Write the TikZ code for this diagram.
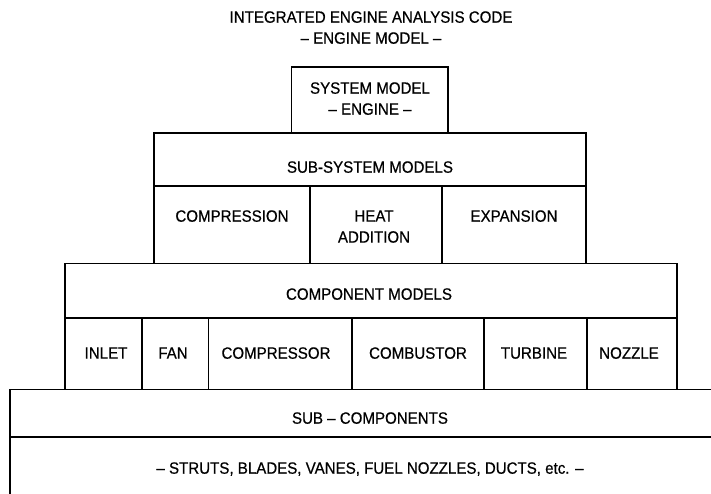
\documentclass[tikz,border=0pt]{standalone}
\usepackage{fontspec}
\setmainfont{Liberation Sans}[FakeStretch=0.92,FakeBold=0.5]
\begin{document}
\begin{tikzpicture}[x=1pt,y=-1pt,
  box/.style={line width=1.7pt,draw=black},
  lbl/.style={inner sep=0pt,align=center,text depth=0pt,font=\fontsize{16.4}{21}\selectfont}]
\useasboundingbox (0,0) rectangle (711,494);
\fill[white] (0,0) rectangle (711,494);
\begin{scope}
\clip (0,0) rectangle (711,494);
% system box
\draw[box] (291.5,67) rectangle (448,133);
% sub-system models
\draw[box] (154,133) rectangle (586,263.5);
\draw[box] (154,186) -- (586,186);
\draw[box] (310,186) -- (310,263.5);
\draw[box] (442,186) -- (442,263.5);
% component models
\draw[box] (65,263.5) rectangle (677,389.5);
\draw[box] (65,318) -- (677,318);
\foreach \xx in {142,208.5,352,484,587} \draw[box] (\xx,318) -- (\xx,389.5);
% sub-components
\draw[box] (720,389.5) -- (10,389.5) -- (10,500);
\draw[box] (10,437) -- (720,437);
\end{scope}
% texts
\node[lbl] (title) at (371,27.5) {INTEGRATED ENGINE ANALYSIS CODE\\– ENGINE MODEL –};
\node[lbl] (sys) at (370,98.5) {SYSTEM MODEL\\– ENGINE –};
\node[lbl] (subsys) at (370,167) {SUB-SYSTEM MODELS};
\node[lbl] (compr) at (232,216) {COMPRESSION};
\node[lbl] (heat) at (374,226.5) {HEAT\\ADDITION};
\node[lbl] (exp) at (514,216) {EXPANSION};
\node[lbl] (comp) at (369,294) {COMPONENT MODELS};
\node[lbl] (inlet) at (106,353) {INLET};
\node[lbl] (fan) at (173,353) {FAN};
\node[lbl] (compressor) at (276,353) {COMPRESSOR};
\node[lbl] (combustor) at (418,353) {COMBUSTOR};
\node[lbl] (turbine) at (534,353) {TURBINE};
\node[lbl] (nozzle) at (629,353) {NOZZLE};
\node[lbl] (subcomp) at (370,418) {SUB – COMPONENTS};
\node[lbl] (struts) at (370,468) {– STRUTS, BLADES, VANES, FUEL NOZZLES, DUCTS, etc. –};
\end{tikzpicture}
\end{document}
